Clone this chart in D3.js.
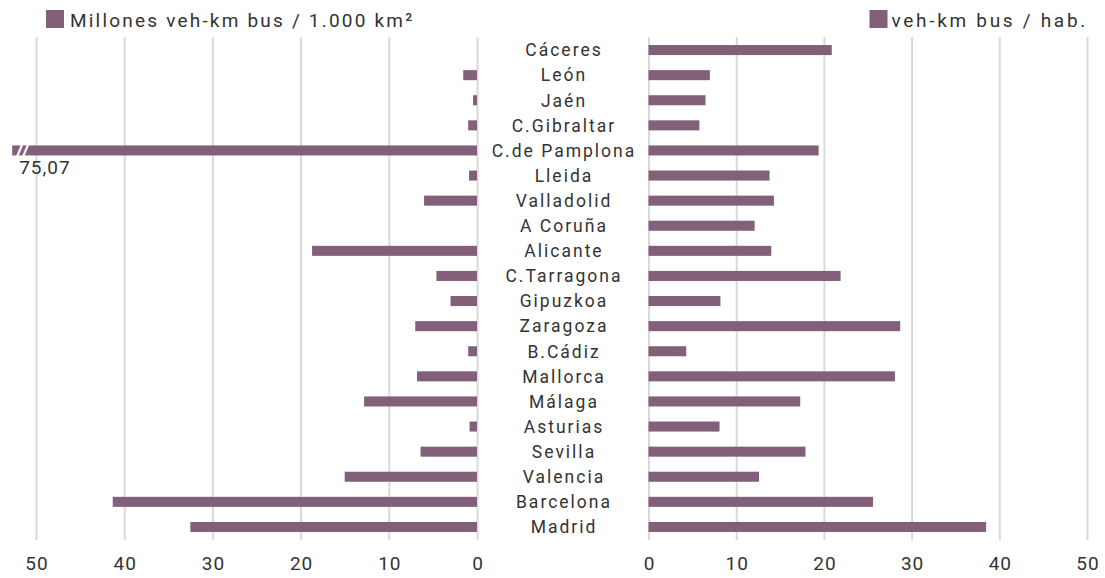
<!DOCTYPE html>
<html><head><meta charset="utf-8">
<script src="https://cdn.jsdelivr.net/npm/d3@7"></script>
<style>body{margin:0;background:#fff}svg{display:block;font-family:Roboto,"DejaVu Sans",sans-serif}</style>
</head><body><svg id="c" width="1105" height="578"></svg>
<script>
const categories = ["Cáceres","León","Jaén","C.Gibraltar","C.de Pamplona","Lleida","Valladolid","A Coruña","Alicante","C.Tarragona","Gipuzkoa","Zaragoza","B.Cádiz","Mallorca","Málaga","Asturias","Sevilla","Valencia","Barcelona","Madrid"];
const densityValues = [0,1.56,0.45,1.0,75.07,0.9,6.0,0,18.7,4.6,3.0,7.0,1.0,6.8,12.8,0.84,6.4,15.0,41.3,32.5];
const perCapitaValues = [20.9,7.0,6.5,5.8,19.4,13.8,14.3,12.1,14.0,21.9,8.2,28.7,4.3,28.1,17.3,8.1,17.9,12.6,25.6,38.5];
const tickValues = [0,10,20,30,40,50];
const legendLeft = "Millones veh-km bus / 1.000 km²";
const legendRight = "veh-km bus / hab.";
const breakValue = 52.7; // where the broken bar is cut

(function(){
const color = "#826079", grid = "#d9d9d9", txt = "#333";
const svg = d3.select("#c");
const gTop = 37, gBottom = 540;
const xL = d3.scaleLinear().domain([0,50]).range([477,36]);
const xR = d3.scaleLinear().domain([0,50]).range([648.5,1087]);
const y = d3.scaleBand().domain(categories).range([37.5,539.5]).paddingInner(0.6).paddingOuter(0.3);

function axis(scale){
  const g = svg.append("g").attr("transform",`translate(0,${gBottom})`)
    .call(d3.axisBottom(scale).tickValues(tickValues).tickSize(-(gBottom-gTop)).tickPadding(17).tickFormat(d3.format("d")));
  g.select(".domain").remove();
  g.selectAll(".tick line").attr("stroke",grid).attr("stroke-width",2);
  g.selectAll(".tick text").attr("fill",txt).attr("x",0.5).style("font-size","19px")
    .style("letter-spacing","1px").style("font-family","Roboto");
}
axis(xL); axis(xR);

svg.append("g").selectAll("rect").data(categories.map((c,i)=>({c,v:densityValues[i]})).filter(d=>d.v>0))
  .join("rect")
  .attr("x",d=>xL(Math.min(d.v,breakValue))).attr("y",d=>y(d.c))
  .attr("width",d=>xL(0)-xL(Math.min(d.v,breakValue))).attr("height",y.bandwidth())
  .attr("fill",color);
svg.append("g").selectAll("rect").data(categories.map((c,i)=>({c,v:perCapitaValues[i]})))
  .join("rect")
  .attr("x",xR(0)).attr("y",d=>y(d.c))
  .attr("width",d=>xR(d.v)-xR(0)).attr("height",y.bandwidth())
  .attr("fill",color);

categories.forEach((c,i)=>{
  const v = densityValues[i];
  if(v>breakValue){
    const x0 = xL(breakValue), y0 = y(c), h = y.bandwidth();
    [5,11].forEach(o=>{
      svg.append("line").attr("x1",x0+o).attr("y1",y0+h+1).attr("x2",x0+o+5).attr("y2",y0-1)
        .attr("stroke","#fff").attr("stroke-width",2.2);
    });
    svg.append("text").attr("x",x0+7).attr("y",y0+h+19).attr("fill",txt)
      .style("font-size","19px").style("letter-spacing","1px").text(d3.format(".2f")(v).replace(".",","));
  }
});

svg.append("g").selectAll("text").data(categories).join("text")
  .attr("x",564).attr("y",d=>y(d)+y.bandwidth()/2).attr("dy","0.36em")
  .attr("text-anchor","middle").attr("fill",txt).style("font-size","17.5px")
  .style("letter-spacing","2px").text(d=>d);

const lg = svg.append("g");
lg.append("rect").attr("x",46).attr("y",10).attr("width",18).attr("height",18).attr("fill",color);
lg.append("text").attr("x",70).attr("y",27).attr("fill",txt).style("font-size","19px")
  .style("letter-spacing","2.2px").text(legendLeft);
const rt = lg.append("text").attr("x",1088).attr("y",27).attr("text-anchor","end").attr("fill",txt)
  .style("font-size","19px").style("letter-spacing","2.7px").text(legendRight);
const w = rt.node().getComputedTextLength();
lg.append("rect").attr("x",1088-w-22).attr("y",10).attr("width",18).attr("height",18).attr("fill",color);
})();
</script></body></html>
